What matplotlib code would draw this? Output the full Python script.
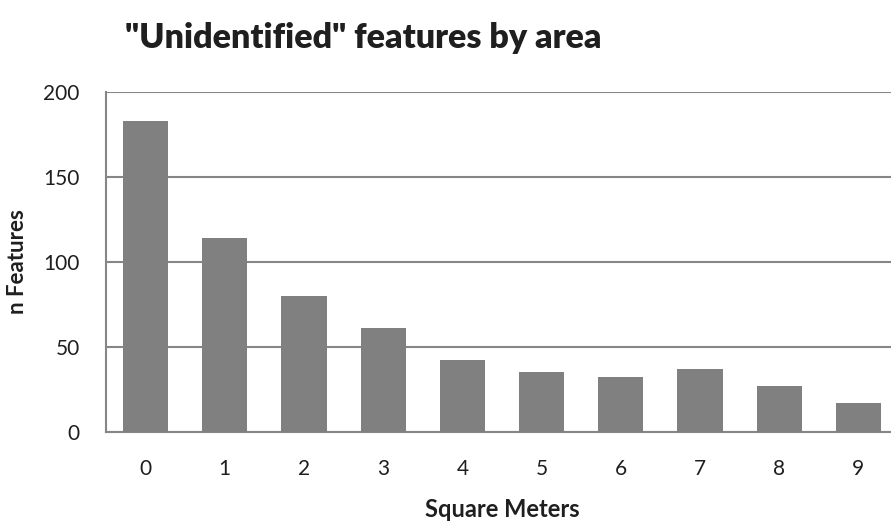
import matplotlib
matplotlib.use('Agg')
import matplotlib.pyplot as plt

# Data
categories = ['0', '1', '2', '3', '4', '5', '6', '7', '8', '9']
n_features = [183, 114, 80, 61, 42, 35, 32, 37, 27, 17]
y_ticks = [0, 50, 100, 150, 200]

plt.rcParams['font.family'] = ['Lato', 'DejaVu Sans']

fig = plt.figure(figsize=(8.91, 5.21), dpi=100)
# axes run a bit past the right edge, like the cropped original
ax = fig.add_axes([106 / 891, 89.3 / 521, 792 / 891, 340 / 521])

grid_col = '#868686'
text_col = '#1f1f1f'
x = range(len(categories))
ax.bar(x, n_features, width=0.57, color='#808080', zorder=3)

ax.set_xlim(-0.5, len(categories) - 0.5)
ax.set_ylim(0, 200)
ax.set_yticks(y_ticks)
ax.set_xticks(list(x))
ax.set_xticklabels(categories)

ax.yaxis.grid(True, color=grid_col, linewidth=1.5, zorder=0)
for side in ['top', 'right']:
    ax.spines[side].set_visible(False)
for side in ['left', 'bottom']:
    ax.spines[side].set_color(grid_col)
    ax.spines[side].set_linewidth(1.5)

ax.tick_params(axis='both', length=0, labelsize=15, colors=text_col)
ax.tick_params(axis='y', pad=19)
ax.tick_params(axis='x', pad=20)

ax.set_xlabel('Square Meters', fontsize=17, fontweight='bold', color=text_col, labelpad=13)
ax.set_ylabel('n Features', fontsize=16, fontweight='bold', color=text_col)
ax.yaxis.set_label_coords(-0.098, 0.5)

fig.text(363 / 891, 1 - 38 / 521, '"Unidentified" features by area', fontsize=24.5,
         fontweight='heavy', ha='center', va='center', color=text_col)

fig.savefig('out.png', dpi=100)
